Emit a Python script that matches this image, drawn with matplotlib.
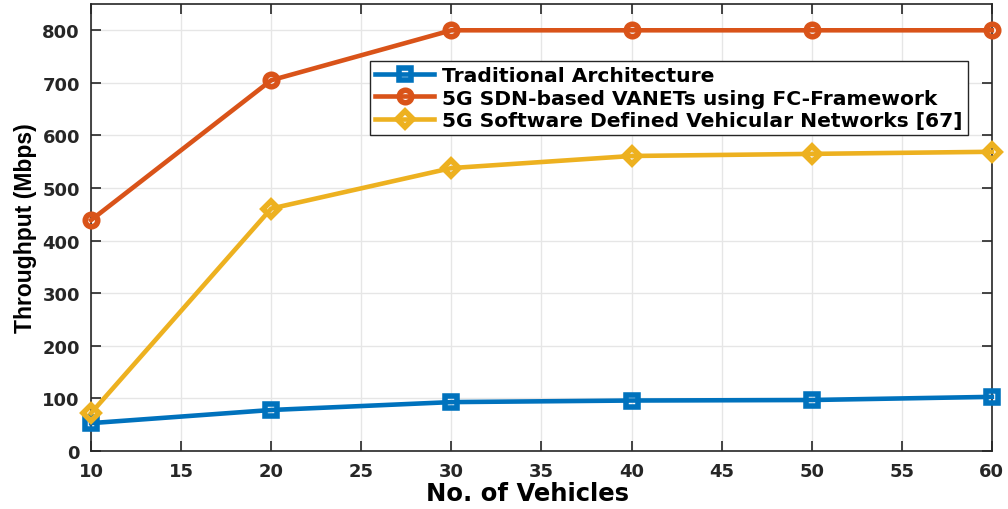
import matplotlib

matplotlib.use("Agg")

import matplotlib.pyplot as plt

plt.rcParams["font.family"] = ["DejaVu Sans"]
plt.rcParams["font.weight"] = "bold"

vehicles = [10, 20, 30, 40, 50, 60]
traditional = [53, 78, 93, 96, 97, 103]
fc_framework = [439, 705, 800, 800, 800, 800]
sdvn_ref = [72, 461, 538, 561, 565, 569]

series = [
    (traditional, "Traditional Architecture", "#0072BD", "s", 8),
    (fc_framework, "5G SDN-based VANETs using FC-Framework", "#D95319", "o", 9),
    (sdvn_ref, "5G Software Defined Vehicular Networks [67]", "#EDB120", "D", 8),
]

fig = plt.figure(figsize=(10.08, 5.10), dpi=100)
ax = fig.add_axes([0.0903, 0.1137, 0.8937, 0.8765])

for values, label, color, marker, size in series:
    ax.plot(
        vehicles, values,
        color=color, linewidth=3.3, marker=marker, markersize=size,
        markerfacecolor="none", markeredgewidth=4, label=label,
        clip_on=False, zorder=3,
    )

ax.set_xlim(10, 60)
ax.set_ylim(0, 850)
ax.set_xticks(range(10, 61, 5))
ax.set_yticks(range(0, 801, 100))
ax.grid(True, color="#e6e6e6", linewidth=1)
ax.set_axisbelow(True)
ax.tick_params(direction="in", length=7, width=1.2, labelsize=13, colors="#262626",
               top=True, right=True, pad=8)
for side in ax.spines.values():
    side.set_color("#262626")
    side.set_linewidth(1.2)
for lbl in ax.get_xticklabels() + ax.get_yticklabels():
    lbl.set_fontweight("bold")

ax.set_xlabel("No. of Vehicles", fontsize=17.5, fontweight="bold")
ax.xaxis.set_label_coords(0.484, -0.066)
ax.set_ylabel("Throughput (Mbps)", fontsize=16.5, fontweight="bold", labelpad=4,
              family=["Liberation Sans", "DejaVu Sans"])

leg = ax.legend(loc="upper left", bbox_to_anchor=(0.31, 0.872), fontsize=14.6,
                frameon=True, fancybox=False, edgecolor="#262626", framealpha=1,
                borderpad=0.25, labelspacing=0.16, handlelength=2.9, handletextpad=0.4,
                borderaxespad=0)
leg.get_frame().set_linewidth(1.0)
for txt in leg.get_texts():
    txt.set_fontweight("bold")
    txt.set_color("black")

fig.savefig("out.png", dpi=100)
